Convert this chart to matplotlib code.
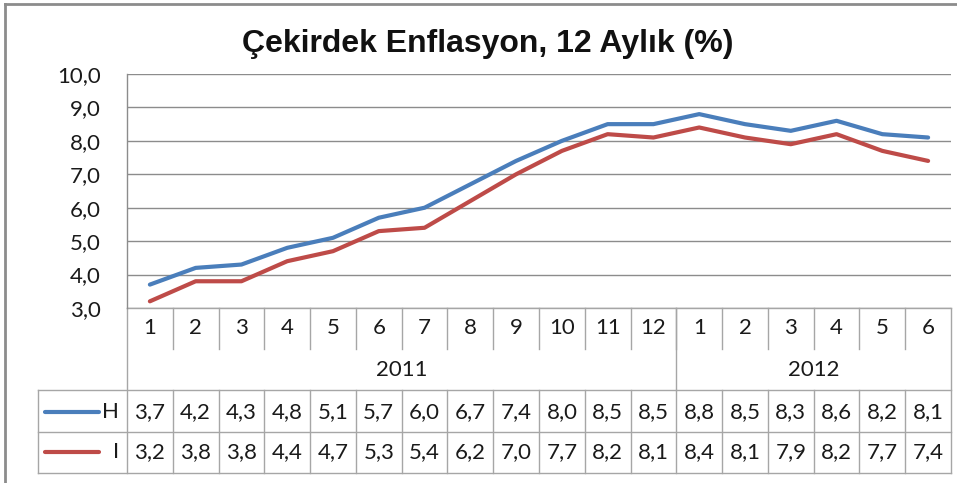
import numpy as np
import matplotlib.pyplot as plt
from matplotlib.transforms import blended_transform_factory

# data
months = ['1', '2', '3', '4', '5', '6', '7', '8', '9', '10', '11', '12',
          '1', '2', '3', '4', '5', '6']
years = ['2011', '2012']
year_len = [12, 6]
series_names = ['H', 'I']
H = [3.7, 4.2, 4.3, 4.8, 5.1, 5.7, 6.0, 6.7, 7.4, 8.0, 8.5, 8.5,
     8.8, 8.5, 8.3, 8.6, 8.2, 8.1]
I = [3.2, 3.8, 3.8, 4.4, 4.7, 5.3, 5.4, 6.2, 7.0, 7.7, 8.2, 8.1,
     8.4, 8.1, 7.9, 8.2, 7.7, 7.4]
colors = ['#4A7EBB', '#BE4B48']
title = 'Çekirdek Enflasyon, 12 Aylık (%)'

plt.rcParams['font.family'] = ['Lato', 'DejaVu Sans']
fs = 16
tc = '#1a1a1a'

W, Hpx = 957, 483
fig = plt.figure(figsize=(W / 100, Hpx / 100), dpi=100)
fig.patch.set_facecolor('white')

def fx(px):
    return px / W

def fy(py):
    return 1 - py / Hpx

left, right, top, bottom = 127, 951, 74, 308
ax = fig.add_axes([fx(left), fy(bottom), fx(right - left), fy(top) - fy(bottom)])

n = len(months)
x = np.arange(n)
ax.set_xlim(-0.5, n - 0.5)
ax.set_ylim(3, 10)
yt = np.arange(3, 10.01, 1.0)
ax.set_yticks(yt)
ax.set_yticklabels([f'{v:.1f}'.replace('.', ',') for v in yt], fontsize=fs, color=tc)
ax.tick_params(axis='y', length=0, pad=19)
ax.set_xticks([])
ax.grid(axis='y', color='#8c8c8c', linewidth=1.0)
ax.set_axisbelow(True)
for s in ['top', 'right', 'bottom']:
    ax.spines[s].set_visible(False)
ax.spines['left'].set_color('#8c8c8c')
ax.spines['left'].set_linewidth(1.0)

for vals, c in zip([H, I], colors):
    ax.plot(x, vals, color=c, linewidth=3.0, solid_capstyle='round', solid_joinstyle='round')

fig.text(fx(488), fy(44), title, ha='center', va='center', fontsize=23,
         fontweight='bold', family=['Liberation Sans', 'DejaVu Sans'], color='#111111')

# table in data x / figure y
tr = blended_transform_factory(ax.transData, fig.transFigure)
gc = '#a6a6a6'
lw = 1.0
row_cat, row_year, row_h, row_i = 349, 390, 432, 473

def vline(xd, y0, y1):
    ax.plot([xd, xd], [fy(y0), fy(y1)], color=gc, lw=lw, transform=tr, clip_on=False)

def hline(x0, x1, yp):
    ax.plot([x0, x1], [fy(yp), fy(yp)], color=gc, lw=lw, transform=tr, clip_on=False)

px_per = (right - left) / n
x_tab_left = -0.5 - (left - 38) / px_per

# category separators
for k in range(1, n):
    vline(k - 0.5, bottom, row_cat)
vline(-0.5, bottom, row_i)
vline(n - 0.5, bottom, row_i)
hline(-0.5, n - 0.5, bottom)
# year boundaries
start = 0
for yname, ln in zip(years, year_len):
    ax.text(start + (ln - 1) / 2, fy(370), yname, transform=tr, ha='center',
            va='center', fontsize=fs, color=tc)
    if start > 0:
        vline(start - 0.5, bottom, row_year)
    start += ln
for k, m in enumerate(months):
    ax.text(k, fy(328), m, transform=tr, ha='center', va='center',
            fontsize=fs, color=tc)

# data rows
hline(x_tab_left, n - 0.5, row_year)
hline(x_tab_left, n - 0.5, row_h)
hline(x_tab_left, n - 0.5, row_i)
vline(x_tab_left, row_year, row_i)
for k in range(1, n):
    vline(k - 0.5, row_year, row_i)

key_x0 = -0.5 - (left - 45) / px_per
key_x1 = -0.5 - (left - 99) / px_per
lab_x = -0.5 - (left - 119) / px_per
for vals, c, name, yc in zip([H, I], colors, series_names, [412, 452]):
    ax.plot([key_x0, key_x1], [fy(yc), fy(yc)], color=c, lw=3.0,
            solid_capstyle='round', transform=tr, clip_on=False)
    ax.text(lab_x, fy(yc), name, transform=tr, ha='right', va='center',
            fontsize=fs, color=tc)
    for k, v in enumerate(vals):
        ax.text(k, fy(yc), f'{v:.1f}'.replace('.', ','), transform=tr,
                ha='center', va='center', fontsize=fs, color=tc)

# outer frame
fig.add_artist(plt.Line2D([fx(5), fx(5)], [fy(4), 0], color='#8c8c8c', lw=2, transform=fig.transFigure))
fig.add_artist(plt.Line2D([fx(5), 1], [fy(4), fy(4)], color='#8c8c8c', lw=2, transform=fig.transFigure))

plt.savefig('out.png', dpi=100)
